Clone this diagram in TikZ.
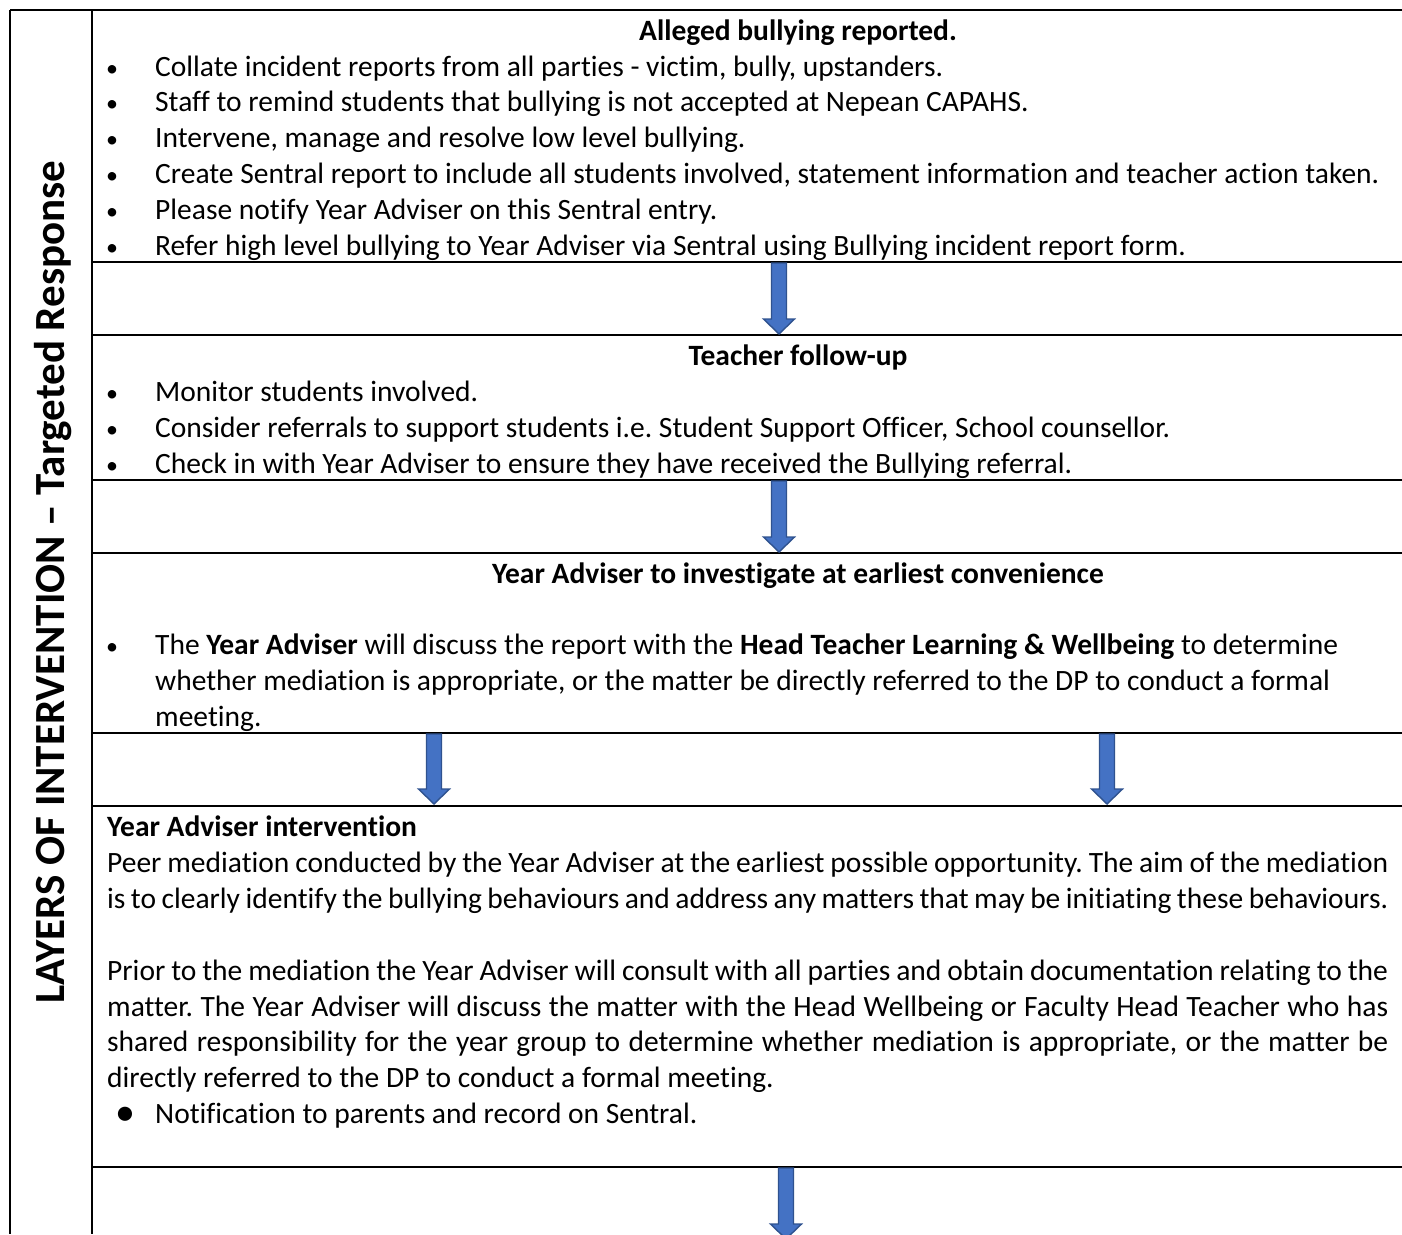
\documentclass[tikz,border=0pt]{standalone}
\usepackage{fontspec}
\setmainfont{Carlito}[Ligatures=NoCommon]
\begin{document}
\frenchspacing
\begin{tikzpicture}[x=1pt,y=-1pt,
  rule/.style={line width=2.6pt},
  txt/.style={anchor=base west, inner sep=0pt, font=\fontsize{29.5}{36}\selectfont},
  ttl/.style={anchor=base, inner sep=0pt, font=\fontsize{29.5}{36}\selectfont\bfseries},
  bul/.style={anchor=base, inner sep=0pt, font=\fontsize{24}{36}\selectfont},
  blockarrow/.style={fill=arrowfill, draw=arrowedge, line width=1.4pt, line join=miter}
]
\definecolor{arrowfill}{HTML}{4472C4}
\definecolor{arrowedge}{HTML}{2F528F}
\newcommand{\jline}[1]{\makebox[1281pt][s]{#1}}
\useasboundingbox (0,0) rectangle (1402,1234);
\fill[white] (0,0) rectangle (1402,1234);

% table frame
\draw[rule] (10,10) -- (1402,10);
\draw[rule] (10,10) -- (10,1234);
\draw[rule] (92,10) -- (92,1234);
\foreach \yy in {262,335,480,553,733,806,1167}
  \draw[rule] (92,\yy) -- (1402,\yy);

% side label
\node[inner sep=0pt, anchor=base, rotate=90, font=\fontsize{43}{50}\selectfont\bfseries] (side) at (64,582)
  {LAYERS OF INTERVENTION – Targeted Response};

% row 1
\node[ttl] (t1) at (798,40) {Alleged bullying reported.};
\foreach \yy/\nm/\tx in {
  76/a1/{Collate incident reports from all parties - victim, bully, upstanders.},
  111/a2/{Staff to remind students that bullying is not accepted at Nepean CAPAHS.},
  147/a3/{Intervene, manage and resolve low level bullying.},
  183/a4/{Create Sentral report to include all students involved, statement information and teacher action taken.},
  219/a5/{Please notify Year Adviser on this Sentral entry.},
  255/a6/{Refer high level bullying to Year Adviser via Sentral using Bullying incident report form.}}
{
  \node[bul] (\nm b) at (112,\yy) {•};
  \node[txt] (\nm) at (155,\yy) {\tx};
}

% row 3
\node[ttl] (t2) at (798,365) {Teacher follow-up};
\foreach \yy/\nm/\tx in {
  401/b1/{Monitor students involved.},
  437/b2/{Consider referrals to support students i.e. Student Support Officer, School counsellor.},
  473/b3/{Check in with Year Adviser to ensure they have received the Bullying referral.}}
{
  \node[bul] (\nm b) at (112,\yy) {•};
  \node[txt] (\nm) at (155,\yy) {\tx};
}

% row 5
\node[ttl] (t3) at (798,583) {Year Adviser to investigate at earliest convenience};
\node[bul] (c1b) at (112,654) {•};
\node[txt] (c1) at (155,654) {The \textbf{Year Adviser} will discuss the report with the \textbf{Head Teacher Learning \& Wellbeing} to determine};
\node[txt] (c2) at (155,690) {whether mediation is appropriate, or the matter be directly referred to the DP to conduct a formal};
\node[txt] (c3) at (155,726) {meeting.};

% row 7
\node[txt, font=\fontsize{29.5}{36}\selectfont\bfseries] (t4) at (107,836) {Year Adviser intervention};
\node[txt] (d1) at (107,872) {\jline{Peer mediation conducted by the Year Adviser at the earliest possible opportunity. The aim of the mediation}};
\node[txt] (d2) at (107,908) {\jline{is to clearly identify the bullying behaviours and address any matters that may be initiating these behaviours.}};
\node[txt] (d3) at (107,980) {\jline{Prior to the mediation the Year Adviser will consult with all parties and obtain documentation relating to the}};
\node[txt] (d4) at (107,1016) {\jline{matter. The Year Adviser will discuss the matter with the Head Wellbeing or Faculty Head Teacher who has}};
\node[txt] (d5) at (107,1051) {\jline{shared responsibility for the year group to determine whether mediation is appropriate, or the matter be}};
\node[txt] (d6) at (107,1087) {directly referred to the DP to conduct a formal meeting.};
\node[bul, font=\fontsize{40}{36}\selectfont] (d7b) at (125,1125) {•};
\node[txt] (d7) at (155,1123) {Notification to parents and record on Sentral.};

% block arrows between the rows
\foreach \xx/\ya/\yb in {779/263/334, 779/481/552, 434/734/804, 1107/734/804, 786/1168/1239}
  \draw[blockarrow] (\xx-7.5,\ya) -- (\xx+7.5,\ya) -- (\xx+7.5,\yb-15) -- (\xx+15.5,\yb-15)
     -- (\xx,\yb) -- (\xx-15.5,\yb-15) -- (\xx-7.5,\yb-15) -- cycle;
\end{tikzpicture}
\end{document}
